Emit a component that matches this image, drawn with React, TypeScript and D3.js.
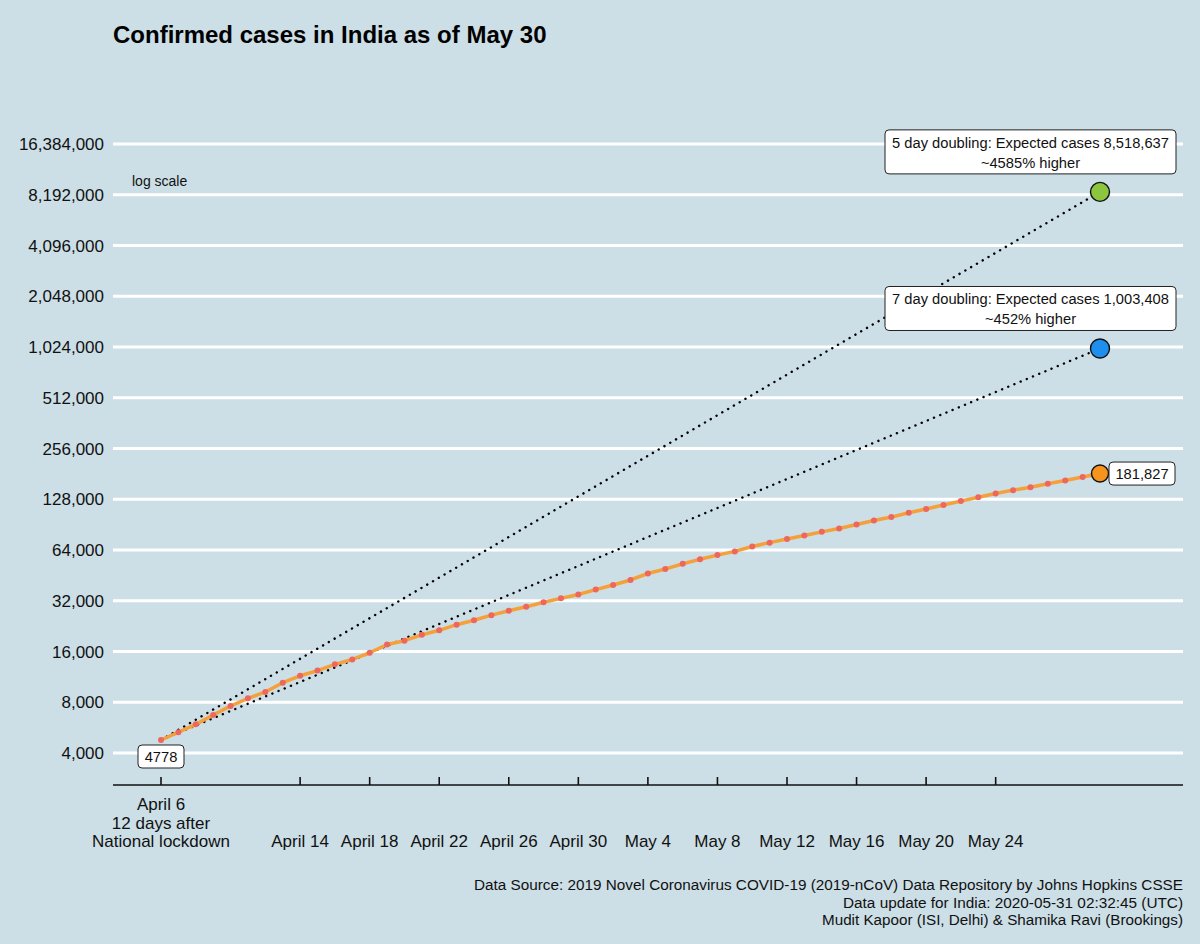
import React from "react";
import * as d3 from "d3";

const startDate = "2020-04-06";
const confirmed: number[] = [
  4778, 5311, 5916, 6725, 7598, 8446, 9205, 10453, 11487, 12322,
  13430, 14352, 15722, 17615, 18539, 20080, 21370, 23077, 24530, 26283,
  27890, 29451, 31324, 33062, 34863, 37257, 39699, 42505, 46437, 49400,
  52987, 56351, 59695, 62808, 67161, 70768, 74292, 78055, 81997, 85784,
  90648, 95698, 100328, 106475, 112028, 118226, 124794, 131423, 138536, 144950,
  150793, 158086, 165386, 173491, 181827,
];
const projectionNames = ["5 day doubling", "7 day doubling"];
const projectionValues = [8518637, 1003408];
const projectionPct = ["~4585% higher", "~452% higher"];
const projectionColors = ["#8cc63f", "#1e8fec"];
const yTicks = [4000, 8000, 16000, 32000, 64000, 128000, 256000, 512000, 1024000, 2048000, 4096000, 8192000, 16384000];
const xTickDates = ["2020-04-06", "2020-04-14", "2020-04-18", "2020-04-22", "2020-04-26", "2020-04-30", "2020-05-04", "2020-05-08", "2020-05-12", "2020-05-16", "2020-05-20", "2020-05-24"];
const xTickLabels = [["April 6", "12 days after", "National lockdown"], ["April 14"], ["April 18"], ["April 22"], ["April 26"], ["April 30"], ["May 4"], ["May 8"], ["May 12"], ["May 16"], ["May 20"], ["May 24"]];
const footerLines = [
  "Data Source: 2019 Novel Coronavirus COVID-19 (2019-nCoV) Data Repository by Johns Hopkins CSSE",
  "Data update for India: 2020-05-31 02:32:45 (UTC)",
  "Mudit Kapoor (ISI, Delhi) & Shamika Ravi (Brookings)",
];
const footerWidths = [709, 340, 361];

const W = 1200;
const H = 944;
const BG = "#ccdee6";
const FONT = "'Liberation Sans', Arial, Helvetica, sans-serif";

export default function App() {
  const parse = d3.utcParse("%Y-%m-%d");
  const t0 = parse(startDate)!;
  const dates = confirmed.map((_, i) => d3.utcDay.offset(t0, i));
  const tEnd = dates[dates.length - 1];

  const x = d3.scaleUtc().domain([t0, tEnd]).range([161, 1100]);
  const y = d3.scaleLog().base(2).domain([4000, 16384000]).range([753, 144]);

  const panelL = 113;
  const panelR = 1183;
  const axisY = 785;

  const line = d3
    .line<number>()
    .x((_, i) => x(dates[i]))
    .y((d) => y(d));

  const fmt = d3.format(",");
  const last = confirmed[confirmed.length - 1];

  return (
    <svg
      width={W}
      height={H}
      style={{ position: "absolute", left: 0, top: 0, display: "block" }}
      fontFamily={FONT}
    >
      <rect x={0} y={0} width={W} height={H} fill={BG} />
      <text x={113} y={43} fontSize={24} fontWeight="bold" fill="#000">
        Confirmed cases in India as of May 30
      </text>

      {yTicks.map((v) => (
        <g key={v}>
          <line x1={panelL} x2={panelR} y1={y(v)} y2={y(v)} stroke="#fff" strokeWidth={3} />
          <text x={104} y={y(v)} dy="0.36em" textAnchor="end" fontSize={17} fill="#111">
            {fmt(v)}
          </text>
        </g>
      ))}

      <text x={132} y={186} fontSize={14} fill="#111">log scale</text>

      <line x1={panelL} x2={panelR} y1={axisY} y2={axisY} stroke="#111" strokeWidth={1.6} />
      {xTickDates.map((ds, i) => {
        const xp = x(parse(ds)!);
        const lines = xTickLabels[i];
        return (
          <g key={ds}>
            <line x1={xp} x2={xp} y1={axisY} y2={axisY - 8} stroke="#111" strokeWidth={1.6} />
            {lines.map((l, j) => (
              <text key={j} x={xp} y={847 - (lines.length - 1 - j) * 18.5} textAnchor="middle" fontSize={17} fill="#111">
                {l}
              </text>
            ))}
          </g>
        );
      })}

      {projectionValues.map((v, i) => (
        <line
          key={"p" + i}
          x1={x(t0)}
          y1={y(confirmed[0])}
          x2={x(tEnd)}
          y2={y(v)}
          stroke="#000"
          strokeWidth={2.4}
          strokeDasharray="0.1 6.6"
          strokeLinecap="round"
        />
      ))}

      <path d={line(confirmed) ?? ""} fill="none" stroke="#f5a03a" strokeWidth={3.5} strokeLinejoin="round" />
      {confirmed.map((v, i) => (
        <circle key={i} cx={x(dates[i])} cy={y(v)} r={3} fill="#ee675c" />
      ))}

      {projectionValues.map((v, i) => {
        const cx = x(tEnd);
        const cy = y(v);
        const bw = 291;
        const bh = 44;
        const bx = panelR - 7 - bw;
        const by = cy - 18 - bh;
        return (
          <g key={"a" + i}>
            <rect x={bx} y={by} width={bw} height={bh} rx={4} fill="#fff" stroke="#222" strokeWidth={1} />
            <text x={bx + bw / 2} y={by + 18} textAnchor="middle" fontSize={14.7} fill="#111">
              {`${projectionNames[i]}: Expected cases ${fmt(v)}`}
            </text>
            <text x={bx + bw / 2} y={by + 38} textAnchor="middle" fontSize={14.7} fill="#111">
              {projectionPct[i]}
            </text>
            <circle cx={cx} cy={cy} r={9.5} fill={projectionColors[i]} stroke="#111" strokeWidth={1.4} />
          </g>
        );
      })}

      <circle cx={x(tEnd)} cy={y(last)} r={8.5} fill="#f7941d" stroke="#111" strokeWidth={1.4} />
      <g>
        <rect x={x(tEnd) + 9} y={y(last) - 11.5} width={66} height={23} rx={4} fill="#fff" stroke="#222" strokeWidth={1} />
        <text x={x(tEnd) + 42} y={y(last)} dy="0.36em" textAnchor="middle" fontSize={14.7} fill="#111">
          {fmt(last)}
        </text>
      </g>

      <g>
        <rect x={x(t0) - 23} y={745} width={46} height={23} rx={4} fill="#fff" stroke="#222" strokeWidth={1} />
        <text x={x(t0)} y={756.5} dy="0.36em" textAnchor="middle" fontSize={14.7} fill="#111">
          {confirmed[0]}
        </text>
      </g>

      {footerLines.map((l, i) => (
        <text
          key={i}
          x={1183}
          y={890 + i * 17.5}
          textAnchor="end"
          fontSize={15.5}
          textLength={footerWidths[i]}
          lengthAdjust="spacingAndGlyphs"
          fill="#111"
        >
          {l}
        </text>
      ))}
    </svg>
  );
}
